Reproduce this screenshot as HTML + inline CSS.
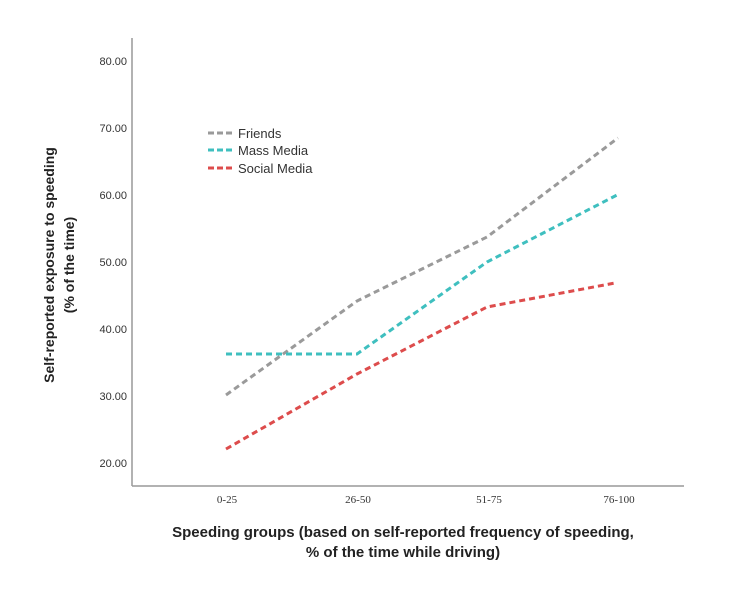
<!DOCTYPE html>
<html><head><style>body{margin:0;background:#fff}</style></head><body>
<svg width="754" height="610" xmlns="http://www.w3.org/2000/svg" font-family="Liberation Sans, sans-serif">
<rect width="754" height="610" fill="#fff"/>
<line x1="132" y1="38" x2="132" y2="486" stroke="#999" stroke-width="1.5"/>
<line x1="132" y1="486" x2="684" y2="486" stroke="#999" stroke-width="1.5"/>
<g font-size="11" fill="#333" text-anchor="end">
<text x="127" y="65">80.00</text><text x="127" y="132">70.00</text><text x="127" y="199">60.00</text>
<text x="127" y="266">50.00</text><text x="127" y="333">40.00</text><text x="127" y="400">30.00</text><text x="127" y="467">20.00</text>
</g>
<g font-size="11" fill="#333" text-anchor="middle" font-family="Liberation Serif, serif">
<text x="227" y="503">0-25</text><text x="358" y="503">26-50</text><text x="489" y="503">51-75</text><text x="619" y="503">76-100</text>
</g>
<g fill="none" stroke-width="3" stroke-dasharray="6,4">
<polyline points="226,395 357,301 487,237 618,138" stroke="#9a9a9a"/>
<polyline points="226,354 357,354 487,262 617,195" stroke="#3fbfbf"/>
<polyline points="226,449 357,374 487,307 615,283" stroke="#dd4c4c"/>
</g>
<g stroke-width="3" stroke-dasharray="6,3">
<line x1="208" y1="133" x2="233" y2="133" stroke="#9a9a9a"/>
<line x1="208" y1="150" x2="233" y2="150" stroke="#3fbfbf"/>
<line x1="208" y1="168" x2="233" y2="168" stroke="#dd4c4c"/>
</g>
<g font-size="13" fill="#333">
<text x="238" y="138">Friends</text><text x="238" y="155">Mass Media</text><text x="238" y="173">Social Media</text>
</g>
<g font-weight="bold" fill="#222" text-anchor="middle">
<text font-size="14" transform="translate(54,265) rotate(-90)">Self-reported exposure to speeding</text>
<text font-size="14" transform="translate(74,265) rotate(-90)">(% of the time)</text>
<text font-size="15" x="403" y="537">Speeding groups (based on self-reported frequency of speeding,</text>
<text font-size="15" x="403" y="557">% of the time while driving)</text>
</g>
</svg>
</body></html>
